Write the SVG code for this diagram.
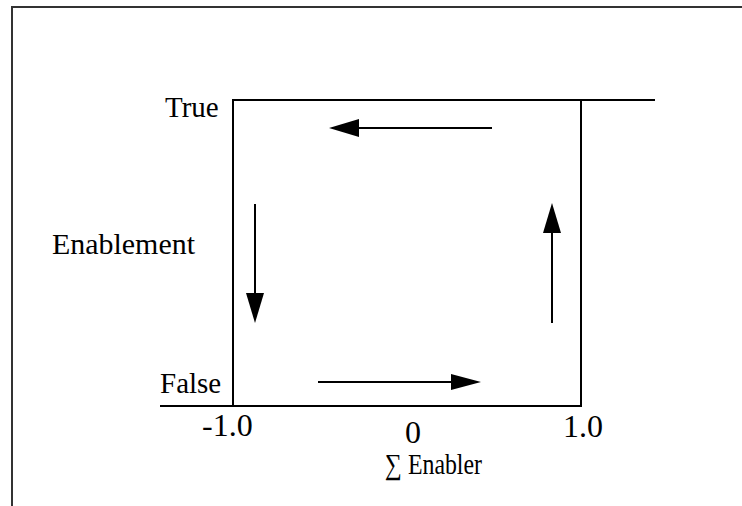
<svg xmlns="http://www.w3.org/2000/svg" width="742" height="506" viewBox="0 0 742 506">
<defs>
<style>
.ln{stroke:#000;stroke-width:2;fill:none}
.fr{stroke:#333;stroke-width:2;fill:none}
.ar{stroke:#000;stroke-width:2;fill:none}
.hd{fill:#000;stroke:none}
text{font-family:"Liberation Serif","Times New Roman",serif;fill:#000}
.lb{font-size:29px}
.nm{font-size:32px}
</style>
</defs>
<rect width="742" height="506" fill="#fff"/>
<g id="frame">
<polyline class="fr" points="12,506 12,7 742,7"/>
</g>
<g id="loop">
<polyline class="ln" points="233,406 233,100 655,100"/>
<polyline class="ln" points="160,406 581,406 581,100"/>
</g>
<g id="labels">
<text class="lb" x="165" y="117">True</text>
<text class="lb" x="52" y="254" textLength="143" lengthAdjust="spacingAndGlyphs">Enablement</text>
<text class="lb" x="160" y="393">False</text>
<text class="nm" x="202" y="436">-1.0</text>
<text class="nm" x="563" y="437">1.0</text>
<text class="nm" x="413" y="443" text-anchor="middle">0</text>
<text x="385" y="474" font-size="29" textLength="97" lengthAdjust="spacingAndGlyphs">∑ Enabler</text>
</g>
<g id="connectors">
<line class="ar" x1="492" y1="128" x2="355" y2="128"/>
<polygon class="hd" points="329,128 359,119 359,137"/>
<line class="ar" x1="318" y1="382" x2="455" y2="382"/>
<polygon class="hd" points="481,382 451,374 451,390"/>
<line class="ar" x1="255" y1="204" x2="255" y2="297"/>
<polygon class="hd" points="255,323 246,293 264,293"/>
<line class="ar" x1="552" y1="323" x2="552" y2="229"/>
<polygon class="hd" points="552,203 543,233 561,233"/>
</g>
</svg>
